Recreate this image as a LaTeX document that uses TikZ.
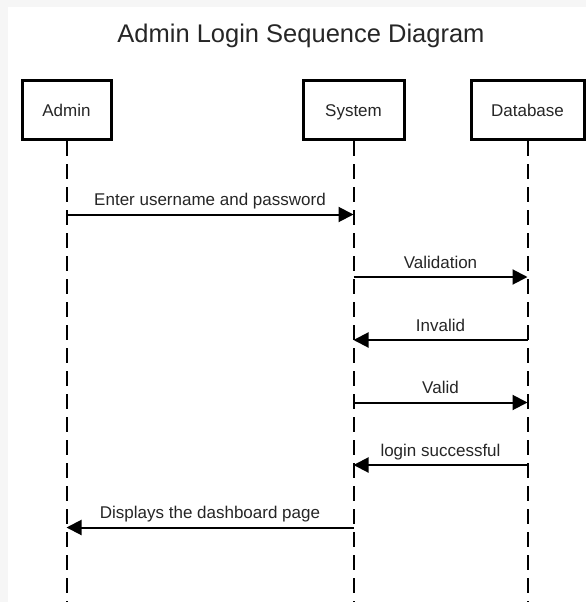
\documentclass[tikz,border=0pt]{standalone}
\usepackage{fontspec}
\setmainfont{Liberation Sans}
\usepackage{tikz}
\usetikzlibrary{calc, arrows.meta, positioning}
\definecolor{txt}{RGB}{38, 38, 38}
\definecolor{pane}{RGB}{246, 246, 246}
\tikzset{
    actornode/.style = {draw=black, rectangle, fill=white, line width=3pt, inner sep = 0em,
      node distance=0em, minimum height=59pt, text height=16pt, text depth=3.5pt,
      text=txt, font=\fontsize{17}{20}\selectfont},
    textnode/.style  = {draw=none, fill=none, rectangle, inner sep = 0em, node distance=0em,
      text=txt},
    lifeline/.style = {black, line width=2pt, dash pattern=on 15pt off 8pt},
    message/.style = {black, line width=2pt, -{Triangle[length=15pt, width=15pt]}},
    msglabel/.style = {textnode, midway, above=9pt, anchor=base,
      font=\fontsize{17}{20}\selectfont}
}

\begin{document}
\begin{tikzpicture}[x=1pt, y=-1pt]
\useasboundingbox (0,0) rectangle (586,602);
\fill[pane] (0,0) rectangle (586,602);
\fill[white] (8,7) rectangle (590,606);

\node[textnode, name=title, anchor=base, font=\fontsize{25.5}{30}\selectfont] at (301,43) {Admin Login Sequence Diagram};

\node[actornode, name=admin, minimum width=89pt] at (66.5,110) {Admin};
\node[actornode, name=system, right of = admin, xshift=287pt, minimum width=101pt] {System};
\node[actornode, name=db, right of = system, xshift=174pt, minimum width=113pt] {Database};

\coordinate (bottom) at (0,604);
\draw[lifeline] (admin.south) -- (admin.south |- bottom);
\draw[lifeline] (system.south) -- (system.south |- bottom);
\draw[lifeline] (db.south) -- (db.south |- bottom);

% message rows
\coordinate (m1) at (0,214.5);
\coordinate (m2) at (0,277);
\coordinate (m3) at (0,340);
\coordinate (m4) at (0,402.5);
\coordinate (m5) at (0,465);
\coordinate (m6) at (0,527.5);

\draw[message] (admin |- m1) -- node[msglabel] {Enter username and password} (system |- m1);
\draw[message] (system |- m2) -- node[msglabel] {Validation} (db |- m2);
\draw[message] (db |- m3) -- node[msglabel] {Invalid} (system |- m3);
\draw[message] (system |- m4) -- node[msglabel] {Valid} (db |- m4);
\draw[message] (db |- m5) -- node[msglabel] {login successful} (system |- m5);
\draw[message] (system |- m6) -- node[msglabel] {Displays the dashboard page} (admin |- m6);
\end{tikzpicture}
\end{document}
